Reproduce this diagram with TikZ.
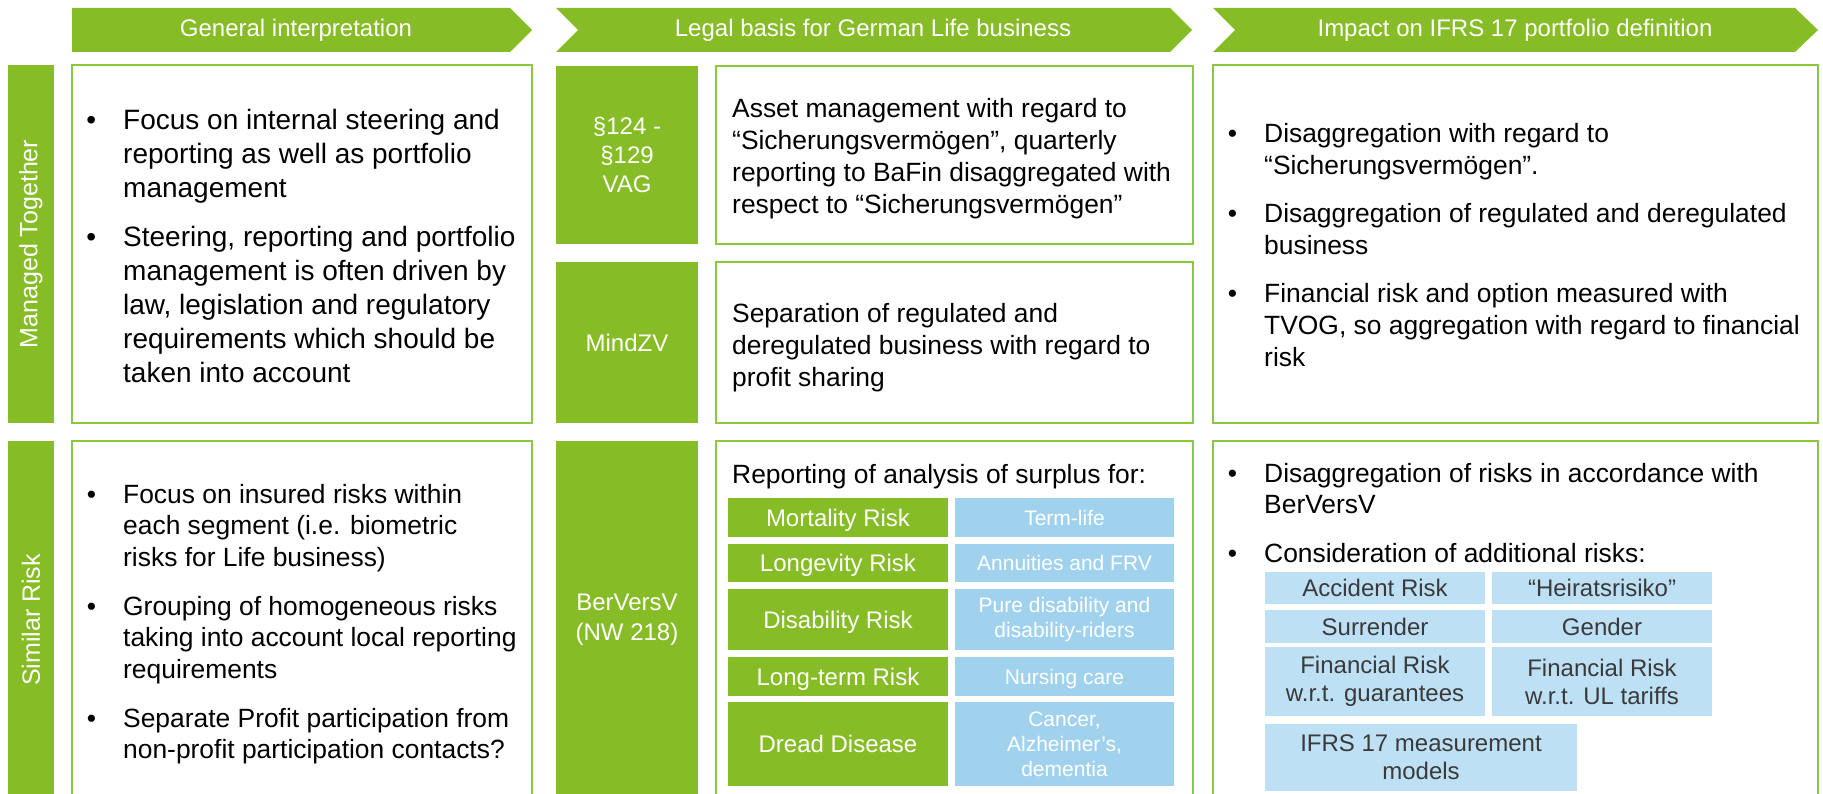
\documentclass[tikz,border=0pt]{standalone}
\usepackage{fontspec}
\setmainfont{Liberation Sans}
\definecolor{dgreen}{HTML}{86BC25}
\definecolor{lblue}{HTML}{A0D2EE}
\definecolor{pblue}{HTML}{BEE0F5}
\definecolor{bord}{HTML}{8DC63F}
\definecolor{dtext}{HTML}{3A3A3A}
\tikzset{
  cell/.style={inner sep=0pt, outer sep=0pt, anchor=north west, align=center},
  gbox/.style={cell, fill=dgreen, text=white, font=\fontsize{24}{29}\selectfont},
  wbox/.style={cell, fill=white, draw=bord, line width=1.5pt},
  gcell/.style={cell, fill=dgreen, text=white, font=\fontsize{24}{28}\selectfont},
  bcell/.style={cell, fill=lblue, text=white, font=\fontsize{21}{25}\selectfont},
  pcell/.style={cell, fill=pblue, text=dtext, font=\fontsize{24}{28}\selectfont},
  one/.style={text height=#1, text depth=0pt},
  btxt/.style={anchor=base west, inner sep=0pt, font=\fontsize{26.4}{31.7}\selectfont},
  btxtL/.style={btxt, font=\fontsize{28}{34}\selectfont},
  side/.style={rotate=90, text=white, inner sep=0pt, font=\fontsize{25}{28}\selectfont},
  htxt/.style={text=white, inner sep=0pt, font=\fontsize{24}{28}\selectfont},
}
\newcommand{\bul}{\llap{\textbullet\hspace{27pt}}}
\newcommand{\blk}[1]{\begin{tabular}[t]{@{}l@{}}#1\end{tabular}}
\begin{document}
\begin{tikzpicture}[x=1pt,y=-1pt]
\useasboundingbox (0,0) rectangle (1823,794);
\clip (0,0) rectangle (1823,794);
% headers
\fill[dgreen] (72,8) -- (510,8) -- (532,30) -- (510,52) -- (72,52) -- cycle;
\fill[dgreen] (556,8) -- (1170,8) -- (1192,30) -- (1170,52) -- (556,52) -- (578,30) -- cycle;
\fill[dgreen] (1213,8) -- (1795,8) -- (1818,30) -- (1795,52) -- (1213,52) -- (1235,30) -- cycle;
\node[htxt] (h1) at (296,30) {General interpretation};
\node[htxt] (h2) at (873,30) {Legal basis for German Life business};
\node[htxt] (h3) at (1515,30) {Impact on IFRS 17 portfolio definition};
% side bars
\node[gbox, minimum width=46pt, minimum height=358pt] (s1) at (8,65) {};
\node[gbox, minimum width=46pt, minimum height=360pt] (s2) at (8,441) {};
\node[side] (s1t) at (31,244) {Managed Together};
\node[side] (s2t) at (31,620) {Similar Risk};
% legal labels
\node[gbox, minimum width=142pt, minimum height=178pt] (l1) at (556,66) {§124 -\\§129\\VAG};
\node[gbox, minimum width=142pt, minimum height=161pt] (l2) at (556,262) {MindZV};
\node[gbox, minimum width=142pt, minimum height=358pt, font=\fontsize{24}{30}\selectfont] (l3) at (556,441) {BerVersV\\(NW 218)};
% white boxes
\node[wbox, minimum width=460pt, minimum height=358pt] (g1) at (72,65) {};
\node[wbox, minimum width=477pt, minimum height=178pt] (a1) at (716,66) {};
\node[wbox, minimum width=477pt, minimum height=161pt] (a2) at (716,262) {};
\node[wbox, minimum width=605pt, minimum height=358pt] (r1) at (1213,65) {};
\node[wbox, minimum width=460pt, minimum height=360pt] (g2) at (72,441) {};
\node[wbox, minimum width=477pt, minimum height=360pt] (a3) at (716,441) {};
\node[wbox, minimum width=605pt, minimum height=360pt] (r2) at (1213,441) {};
% general row 1
\node[btxtL] (g1b1) at (123,130) {\bul\blk{Focus on internal steering and\\reporting as well as portfolio\\management}};
\node[btxtL] (g1b2) at (123,247) {\bul\blk{Steering, reporting and portfolio\\management is often driven by\\law, legislation and regulatory\\requirements which should be\\taken into account}};
% legal row 1
\node[btxt] (a1t) at (732,118) {\blk{Asset management with regard to\\“Sicherungsvermögen”, quarterly\\reporting to BaFin disaggregated with\\respect to “Sicherungsvermögen”}};
\node[btxt] (a2t) at (732,323) {\blk{Separation of regulated and\\deregulated business with regard to\\profit sharing}};
% impact row 1
\node[btxt] (r1b1) at (1264,143) {\bul\blk{Disaggregation with regard to\\“Sicherungsvermögen”.}};
\node[btxt] (r1b2) at (1264,223) {\bul\blk{Disaggregation of regulated and deregulated\\business}};
\node[btxt] (r1b3) at (1264,303) {\bul\blk{Financial risk and option measured with\\TVOG, so aggregation with regard to financial\\risk}};
% general row 2
\node[btxt] (g2b1) at (123,503) {\bul\blk{Focus on insured risks within\\each segment (i.e. biometric\\risks for Life business)}};
\node[btxt] (g2b2) at (123,615) {\bul\blk{Grouping of homogeneous risks\\taking into account local reporting\\requirements}};
\node[btxt] (g2b3) at (123,727) {\bul\blk{Separate Profit participation from\\non-profit participation contacts?}};
% legal row 2
\node[btxt] (a3t) at (732,483) {Reporting of analysis of surplus for:};
\node[gcell, one=17.3pt, minimum width=220pt, minimum height=39pt] (m1) at (728,498) {Mortality Risk};
\node[gcell, one=17.3pt, minimum width=220pt, minimum height=38pt] (m2) at (728,544) {Longevity Risk};
\node[gcell, one=17.3pt, minimum width=220pt, minimum height=61pt] (m3) at (728,589) {Disability Risk};
\node[gcell, one=17.3pt, minimum width=220pt, minimum height=39pt] (m4) at (728,657) {Long-term Risk};
\node[gcell, one=17.3pt, minimum width=220pt, minimum height=84pt] (m5) at (728,702) {Dread Disease};
\node[bcell, one=15pt, minimum width=219pt, minimum height=39pt] (n1) at (955,498) {Term-life};
\node[bcell, one=15pt, minimum width=219pt, minimum height=38pt] (n2) at (955,544) {Annuities and FRV};
\node[bcell, minimum width=219pt, minimum height=61pt] (n3) at (955,589) {Pure disability and\\disability-riders};
\node[bcell, one=15pt, minimum width=219pt, minimum height=39pt] (n4) at (955,657) {Nursing care};
\node[bcell, minimum width=219pt, minimum height=84pt] (n5) at (955,702) {Cancer,\\Alzheimer's,\\dementia};
% impact row 2
\node[btxt] (r2b1) at (1264,482) {\bul\blk{Disaggregation of risks in accordance with\\BerVersV}};
\node[btxt] (r2b2) at (1264,562) {\bul Consideration of additional risks:};
\node[pcell, one=17.3pt, minimum width=220pt, minimum height=32pt] (p1) at (1265,572) {Accident Risk};
\node[pcell, one=17.3pt, minimum width=220pt, minimum height=32pt] (p2) at (1492,572) {“Heiratsrisiko”};
\node[pcell, one=17.3pt, minimum width=220pt, minimum height=33pt] (p3) at (1265,610) {Surrender};
\node[pcell, one=17.3pt, minimum width=220pt, minimum height=33pt] (p4) at (1492,610) {Gender};
\node[pcell, minimum width=220pt, minimum height=69pt] (p5) at (1265,647) {Financial Risk\\w.r.t. guarantees};
\node[pcell, minimum width=220pt, minimum height=69pt] (p6) at (1492,647) {Financial Risk\\w.r.t. UL tariffs};
\node[pcell, minimum width=312pt, minimum height=67pt] (p7) at (1265,724) {IFRS 17 measurement\\models};
\end{tikzpicture}
\end{document}
